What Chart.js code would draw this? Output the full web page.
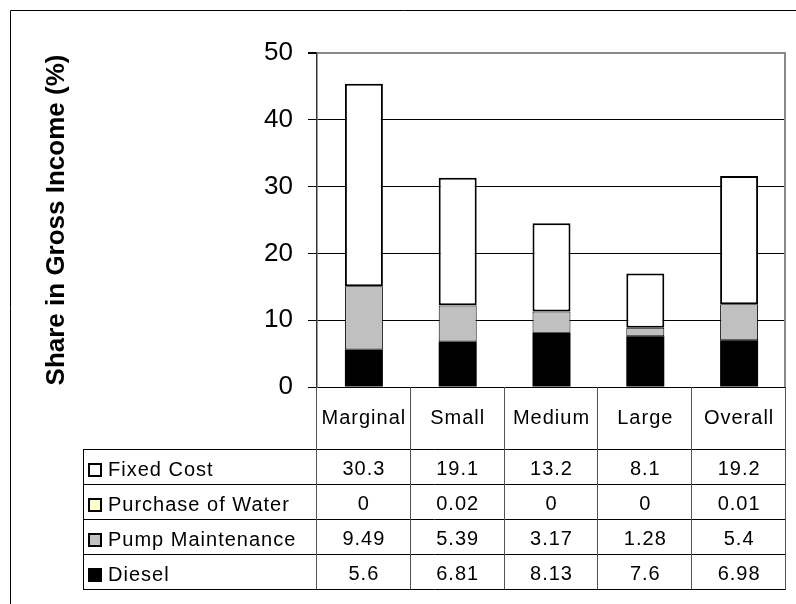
<!DOCTYPE html>
<html>
<head>
<meta charset="utf-8">
<script src="https://cdn.jsdelivr.net/npm/chart.js@4.4.0/dist/chart.umd.min.js"></script>
<style>
  html, body { margin: 0; padding: 0; background: #fff; }
  canvas { display: block; }
</style>
</head>
<body>
<canvas id="c" width="796" height="604"></canvas>
<script>
// Farm-size categories and cost shares (% of gross income)
const categories = ['Marginal', 'Small', 'Medium', 'Large', 'Overall'];
const fixedCost = [30.3, 19.1, 13.2, 8.1, 19.2];
const purchaseOfWater = [0, 0.02, 0, 0, 0.01];
const pumpMaintenance = [9.49, 5.39, 3.17, 1.28, 5.4];
const diesel = [5.6, 6.81, 8.13, 7.6, 6.98];
const yTicks = [0, 10, 20, 30, 40, 50];

const FONT = '"Liberation Sans", Arial, Helvetica, sans-serif';

// White page with the outer frame
const framePlugin = {
  id: 'frame',
  beforeDraw(chart) {
    const ctx = chart.ctx;
    ctx.save();
    ctx.fillStyle = '#fff';
    ctx.fillRect(0, 0, chart.width, chart.height);
    ctx.strokeStyle = '#000';
    ctx.lineWidth = 1;
    ctx.beginPath();
    ctx.moveTo(10.5, chart.height);
    ctx.lineTo(10.5, 10.5);
    ctx.lineTo(chart.width, 10.5);
    ctx.stroke();
    ctx.restore();
  }
};

// Data table under the plot: category header, legend keys and values
const tablePlugin = {
  id: 'costTable',
  afterDraw(chart) {
    const ctx = chart.ctx;
    const { left, right, top, bottom } = chart.chartArea;
    const xScale = chart.scales.x;
    const n = categories.length;
    const colW = (right - left) / n;
    const tableLeft = 83;
    const headerBottom = 449;
    const rowH = 35;
    const rows = chart.data.datasets.slice().reverse();
    const tableBottom = headerBottom + rows.length * rowH;

    ctx.save();

    // plot area right edge
    ctx.strokeStyle = '#888';
    ctx.lineWidth = 2;
    ctx.beginPath();
    ctx.moveTo(right - 1, top);
    ctx.lineTo(right - 1, bottom);
    ctx.stroke();

    // horizontal rules
    ctx.strokeStyle = '#000';
    ctx.lineWidth = 1;
    ctx.beginPath();
    for (let k = 0; k <= rows.length; k++) {
      const y = Math.round(headerBottom + k * rowH) + 0.5;
      ctx.moveTo(tableLeft, y);
      ctx.lineTo(right, y);
    }
    ctx.moveTo(tableLeft + 0.5, headerBottom);
    ctx.lineTo(tableLeft + 0.5, tableBottom + 0.5);
    ctx.stroke();

    // column separators
    ctx.strokeStyle = '#555';
    ctx.beginPath();
    for (let i = 0; i <= n; i++) {
      const x = Math.round(left + i * colW) - 0.5;
      ctx.moveTo(x, bottom);
      ctx.lineTo(x, tableBottom + 0.5);
    }
    ctx.stroke();

    ctx.fillStyle = '#000';
    ctx.font = '20px ' + FONT;
    ctx.letterSpacing = '1px';
    ctx.textBaseline = 'alphabetic';

    // category header
    ctx.textAlign = 'center';
    categories.forEach((c, i) => {
      ctx.fillText(c, xScale.getPixelForValue(i), bottom + 37);
    });

    // series rows
    rows.forEach((ds, r) => {
      const rowTop = headerBottom + r * rowH;
      // legend key
      ctx.fillStyle = ds.backgroundColor;
      ctx.fillRect(88, rowTop + 14, 14, 14);
      ctx.strokeStyle = '#000';
      ctx.lineWidth = 2;
      ctx.strokeRect(89, rowTop + 15, 12, 12);
      ctx.fillStyle = '#000';
      ctx.textAlign = 'left';
      ctx.fillText(ds.label, 108, rowTop + 27);
      ctx.textAlign = 'center';
      ds.data.forEach((v, i) => {
        ctx.fillText(String(v), xScale.getPixelForValue(i), rowTop + 26);
      });
    });

    ctx.restore();
  }
};

new Chart(document.getElementById('c'), {
  type: 'bar',
  data: {
    labels: categories,
    datasets: [
      { label: 'Diesel', data: diesel, backgroundColor: '#000000',
        borderColor: '#000000', borderWidth: 0 },
      { label: 'Pump Maintenance', data: pumpMaintenance, backgroundColor: '#C0C0C0',
        borderColor: '#000000', borderWidth: 1, borderSkipped: false },
      { label: 'Purchase of Water', data: purchaseOfWater, backgroundColor: '#FFFFCC',
        borderColor: '#000000', borderWidth: 1, borderSkipped: false },
      { label: 'Fixed Cost', data: fixedCost, backgroundColor: '#FFFFFF',
        borderColor: '#000000', borderWidth: 2, borderSkipped: false }
    ]
  },
  options: {
    responsive: false,
    devicePixelRatio: 1,
    animation: false,
    layout: { padding: { top: 53, right: 10, bottom: 217, left: 0 } },
    datasets: { bar: { categoryPercentage: 1, barPercentage: 0.405 } },
    plugins: { legend: { display: false }, tooltip: { enabled: false } },
    scales: {
      x: { type: 'category', stacked: true, display: false },
      y: {
        stacked: true,
        min: yTicks[0],
        max: yTicks[yTicks.length - 1],
        afterFit(scale) { scale.width = 317; },
        ticks: {
          stepSize: yTicks[1] - yTicks[0],
          color: '#000',
          padding: 15,
          font: { family: FONT, size: 26 }
        },
        grid: {
          color: (c) => (c.tick && c.tick.value === yTicks[yTicks.length - 1]) ? '#888' : '#000',
          lineWidth: (c) => (c.tick && c.tick.value === yTicks[yTicks.length - 1]) ? 2 : 1,
          tickColor: '#000',
          tickLength: 9,
          drawTicks: true
        },
        border: { display: true, color: '#333', width: 1.5 },
        title: {
          display: true,
          text: 'Share in Gross Income (%)',
          color: '#000',
          font: { family: FONT, size: 26, weight: 'bold', lineHeight: 1.2 },
          padding: { top: 41, bottom: 0 }
        }
      }
    }
  },
  plugins: [framePlugin, tablePlugin]
});
</script>
</body>
</html>
